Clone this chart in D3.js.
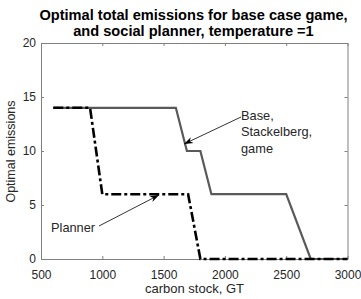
<!DOCTYPE html>
<html>
<head>
<meta charset="utf-8">
<script src="https://cdn.jsdelivr.net/npm/d3@7"></script>
<style>
  body { margin: 0; background: #fff; }
  text { font-family: "Liberation Sans", Arial, sans-serif; }
</style>
</head>
<body>
<script>
// data
let baseX = [600, 1600, 1690, 1800, 1890, 2500, 2700, 3000];
let baseY = [14, 14, 10, 10, 6, 6, 0, 0];
let plannerX = [600, 900, 1000, 1700, 1800, 3000];
let plannerY = [14, 14, 6, 6, 0, 0];
let xTicks = [500, 1000, 1500, 2000, 2500, 3000];
let yTicks = [0, 5, 10, 15, 20];

let width = 361, height = 299;
let margin = {left: 41, right: 13.5, top: 43, bottom: 40};

let svg = d3.select("body").append("svg")
    .attr("width", width)
    .attr("height", height);

let x = d3.scaleLinear().domain([500, 3000]).range([margin.left, width - margin.right]);
let y = d3.scaleLinear().domain([0, 20]).range([height - margin.bottom, margin.top]);

let axisColor = "#808080";
let labelColor = "#262626";

// box + inward ticks
function styleAxis(g) {
    g.select(".domain").attr("stroke", axisColor).attr("stroke-width", 1);
    g.selectAll(".tick line").attr("stroke", axisColor);
    g.selectAll(".tick text").attr("fill", labelColor).style("font-size", "12px");
}

svg.append("g")
    .attr("transform", "translate(0," + y(0) + ")")
    .call(d3.axisBottom(x).tickValues(xTicks).tickSizeInner(-3).tickSizeOuter(0).tickPadding(11).tickFormat(d3.format("d")))
    .call(styleAxis);

svg.append("g")
    .attr("transform", "translate(0," + y(20) + ")")
    .call(d3.axisTop(x).tickValues(xTicks).tickSizeInner(-3).tickSizeOuter(0).tickFormat(""))
    .call(styleAxis);

svg.append("g")
    .attr("transform", "translate(" + x(500) + ",0)")
    .call(d3.axisLeft(y).tickValues(yTicks).tickSizeInner(-3).tickSizeOuter(0).tickPadding(5))
    .call(styleAxis);

svg.append("g")
    .attr("transform", "translate(" + x(3000) + ",0)")
    .call(d3.axisRight(y).tickValues(yTicks).tickSizeInner(-3).tickSizeOuter(0).tickFormat(""))
    .call(styleAxis);

let line = d3.line().x(d => x(d[0])).y(d => y(d[1]));

svg.append("path")
    .datum(d3.zip(baseX, baseY))
    .attr("d", line)
    .attr("fill", "none")
    .attr("stroke", "#595959")
    .attr("stroke-width", 2.2);

svg.append("path")
    .datum(d3.zip(plannerX, plannerY))
    .attr("d", line)
    .attr("fill", "none")
    .attr("stroke", "#000")
    .attr("stroke-width", 2.6)
    .attr("stroke-dasharray", "10,3,3,3");

// annotations
let defs = svg.append("defs");
defs.append("marker")
    .attr("id", "arr")
    .attr("viewBox", "0 0 10 10")
    .attr("refX", 10).attr("refY", 5)
    .attr("markerWidth", 9).attr("markerHeight", 9)
    .attr("markerUnits", "userSpaceOnUse")
    .attr("orient", "auto")
    .append("path")
    .attr("d", "M0,1.5 L10,5 L0,8.5 L3,5 Z")
    .attr("fill", "#000");

svg.append("line")
    .attr("x1", 241).attr("y1", 117)
    .attr("x2", 184).attr("y2", 144)
    .attr("stroke", "#000").attr("stroke-width", 0.8)
    .attr("marker-end", "url(#arr)");

svg.append("line")
    .attr("x1", 99).attr("y1", 226)
    .attr("x2", 159).attr("y2", 195)
    .attr("stroke", "#000").attr("stroke-width", 0.8)
    .attr("marker-end", "url(#arr)");

let baseLabel = svg.append("text")
    .attr("x", 241).attr("y", 119.5)
    .style("font-size", "12.8px")
    .attr("fill", labelColor);
["Base,", "Stackelberg,", "game"].forEach((t, i) => {
    baseLabel.append("tspan").attr("x", 241).attr("dy", i == 0 ? 0 : 16.6).text(t);
});

svg.append("text")
    .attr("x", 51).attr("y", 232)
    .style("font-size", "12.8px")
    .attr("fill", labelColor)
    .text("Planner");

// titles
let cx = 193.5;
svg.append("text")
    .attr("x", cx)
    .attr("y", 19.5)
    .attr("text-anchor", "middle")
    .style("font-size", "14.6px")
    .style("font-weight", "bold")
    .text("Optimal total emissions for base case game,");

svg.append("text")
    .attr("x", cx)
    .attr("y", 35.5)
    .attr("text-anchor", "middle")
    .style("font-size", "14.6px")
    .style("font-weight", "bold")
    .text("and social planner, temperature =1");

svg.append("text")
    .attr("x", 194.5)
    .attr("y", 292.5)
    .attr("text-anchor", "middle")
    .style("font-size", "13px")
    .attr("fill", labelColor)
    .text("carbon stock, GT");

svg.append("text")
    .attr("transform", "translate(15," + 151.5 + ") rotate(-90)")
    .attr("text-anchor", "middle")
    .style("font-size", "12.5px")
    .attr("fill", labelColor)
    .text("Optimal emissions");
</script>
</body>
</html>
